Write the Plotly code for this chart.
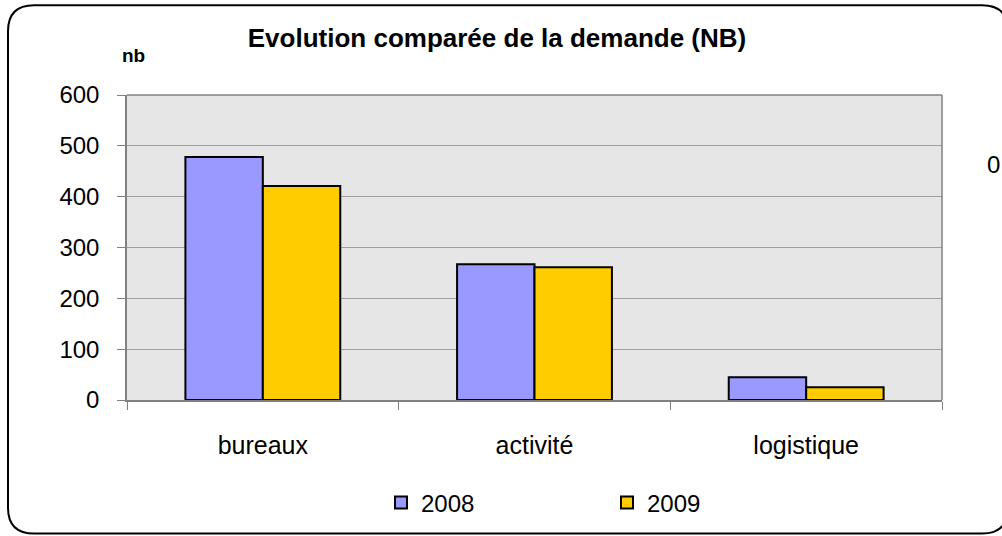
import plotly.graph_objects as go

# data
categories = ["bureaux", "activité", "logistique"]
values_2008 = [478, 267, 45]
values_2009 = [421, 261, 25]
series_names = ["2008", "2009"]

W, H = 1002, 536
L, R, T, B = 127, 942, 95, 401  # plot area in pixels

COLORS = {"2008": "#9999FF", "2009": "#FFCC00"}
FONT = "Liberation Sans, Arial, sans-serif"


def px_x(px):
    return (px - L) / (R - L)


def px_y(py):
    return (B - py) / (B - T)


def rounded_box(x0, y0, x1, y1, r):
    """Rounded rectangle path (pixel coords -> paper coords)."""
    pts = [
        ("M", (x0 + r, y0)),
        ("L", (x1 - r, y0)),
        ("Q", (x1, y0), (x1, y0 + r)),
        ("L", (x1, y1 - r)),
        ("Q", (x1, y1), (x1 - r, y1)),
        ("L", (x0 + r, y1)),
        ("Q", (x0, y1), (x0, y1 - r)),
        ("L", (x0, y0 + r)),
        ("Q", (x0, y0), (x0 + r, y0)),
    ]
    parts = []
    for cmd, *coords in pts:
        parts.append(cmd + " ".join(f"{px_x(x):.5f},{px_y(y):.5f}" for x, y in coords))
    return " ".join(parts) + " Z"


fig = go.Figure()
for name, vals in zip(series_names, [values_2008, values_2009]):
    fig.add_trace(go.Bar(
        name=name,
        x=categories,
        y=vals,
        marker=dict(color=COLORS[name], line=dict(color="#000000", width=2)),
    ))

fig.update_layout(
    width=W,
    height=H,
    margin=dict(l=L, r=W - R, t=T, b=H - B, pad=0),
    paper_bgcolor="white",
    plot_bgcolor="#E6E6E6",
    barmode="group",
    bargap=0.43,
    bargroupgap=0,
    font=dict(family=FONT, size=24, color="black"),
    title=dict(
        text="<b>Evolution comparée de la demande (NB)</b>",
        x=px_x(497), xanchor="center", xref="paper",
        y=1 - 38 / H, yanchor="middle", yref="container",
        font=dict(size=26, family=FONT, color="black"),
    ),
    showlegend=True,
    legend=dict(
        orientation="h",
        x=px_x(381), xanchor="left",
        y=px_y(503), yanchor="middle",
        entrywidth=181, entrywidthmode="pixels",
        font=dict(size=24, family=FONT, color="black"),
        bgcolor="rgba(0,0,0,0)",
        itemwidth=30,
    ),
    xaxis=dict(
        type="category",
        showgrid=False,
        showline=True, linecolor="#808080", linewidth=1.5,
        ticks="outside", ticklen=8, tickcolor="#808080",
        tickson="boundaries",
        ticklabelstandoff=22,
        tickfont=dict(size=25, family=FONT),
    ),
    yaxis=dict(
        range=[0, 600],
        dtick=100,
        showgrid=True, gridcolor="#A0A0A0", gridwidth=1,
        showline=True, linecolor="#808080", linewidth=1.5,
        ticks="outside", ticklen=8, tickcolor="#808080",
        tickfont=dict(size=24, family=FONT),
        ticklabelstandoff=13,
        zeroline=False,
    ),
    annotations=[
        dict(text="<b>nb</b>", x=px_x(120), y=px_y(55), xref="paper", yref="paper",
             xanchor="left", yanchor="middle", showarrow=False,
             font=dict(size=19, family=FONT, color="black")),
        # stray label sitting at the right edge in the original
        dict(text="0", x=px_x(985), y=px_y(165), xref="paper", yref="paper",
             xanchor="left", yanchor="middle", showarrow=False,
             font=dict(size=24, family=FONT, color="black")),
    ],
    shapes=[
        # plot area frame (top and right edges)
        dict(type="line", xref="paper", yref="paper", x0=0, x1=1, y0=1, y1=1,
             line=dict(color="#808080", width=1.5)),
        dict(type="line", xref="paper", yref="paper", x0=1, x1=1, y0=0, y1=1,
             line=dict(color="#808080", width=1.5)),
        # rounded chart border (runs past the right edge, as in the original)
        dict(type="path", xref="paper", yref="paper",
             path=rounded_box(8, 5, 1008, 535, 26),
             line=dict(color="#000000", width=2)),
    ],
)

fig.write_html(
    "out.html",
    config={"displayModeBar": False},
    post_script="document.body.style.margin = '0';",
)
